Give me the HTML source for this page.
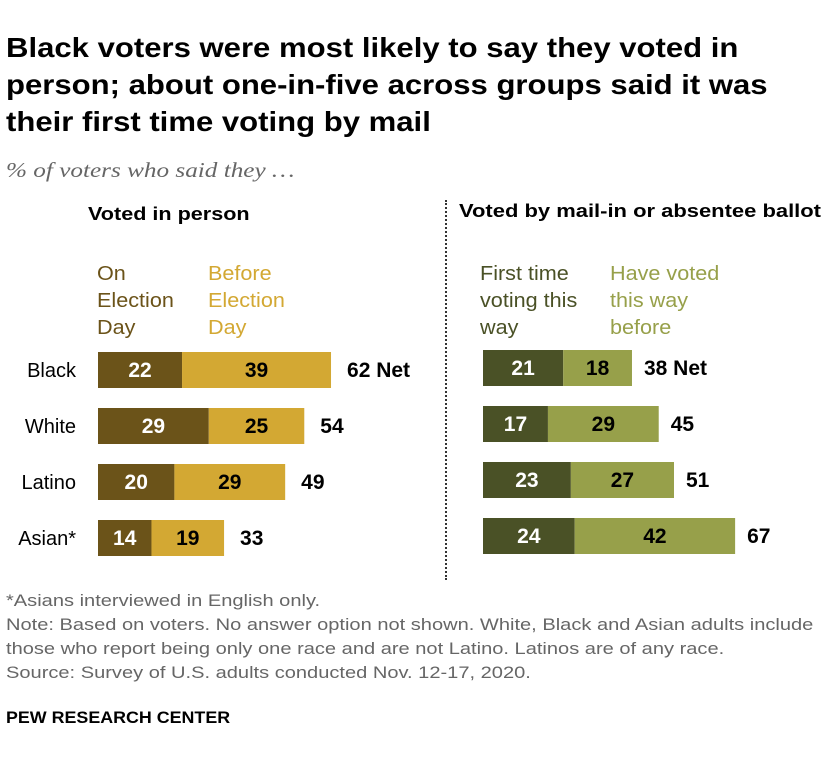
<!DOCTYPE html>
<html><head><meta charset="utf-8"><style>
body{margin:0;background:#fff;font-family:"Liberation Sans",sans-serif;}
#wrap{position:relative;width:840px;height:762px;overflow:hidden;}
.t{position:absolute;white-space:nowrap;transform-origin:0 0;}
</style></head><body>
<div id="wrap">
<div class="t" style="left:6px;top:29px;font-size:28px;font-weight:bold;line-height:37px;color:#000;transform:scaleX(1.11)">Black voters were most likely to say they voted in<br>person; about one-in-five across groups said it was<br>their first time voting by mail</div>
<div class="t" style="left:6px;top:158px;font-size:21px;font-style:italic;color:#666;font-family:'Liberation Serif',serif;transform:scaleX(1.2)">% of voters who said they …</div>
<div class="t" style="left:88px;top:204px;font-size:18px;font-weight:bold;transform:scaleX(1.2)">Voted in person</div>
<div class="t" style="left:459px;top:201px;font-size:18px;font-weight:bold;transform:scaleX(1.22)">Voted by mail-in or absentee ballot</div>
<div class="t" style="left:97px;top:261px;font-size:20px;line-height:27px;color:#6b5319;transform:scaleX(1.08)">On<br>Election<br>Day</div>
<div class="t" style="left:208px;top:261px;font-size:20px;line-height:27px;color:#d3a833;transform:scaleX(1.08)">Before<br>Election<br>Day</div>
<div class="t" style="left:480px;top:261px;font-size:20px;line-height:27px;color:#4a5126;transform:scaleX(1.08)">First time<br>voting this<br>way</div>
<div class="t" style="left:610px;top:261px;font-size:20px;line-height:27px;color:#97a04a;transform:scaleX(1.08)">Have voted<br>this way<br>before</div>
<div style="position:absolute;left:445px;top:200px;height:380px;border-left:2px dotted #333"></div>
<svg id="svg" width="840" height="762" style="position:absolute;left:0;top:0"></svg>
<div class="t" style="left:6px;top:589px;font-size:17px;line-height:24px;color:#666;transform:scaleX(1.18)">*Asians interviewed in English only.<br>Note: Based on voters. No answer option not shown. White, Black and Asian adults include<br>those who report being only one race and are not Latino. Latinos are of any race.<br>Source: Survey of U.S. adults conducted Nov. 12-17, 2020.</div>
<div class="t" style="left:6px;top:708px;font-size:17px;font-weight:bold;transform:scaleX(1.05)">PEW RESEARCH CENTER</div>
</div>
<script>
const groups=["Black","White","Latino","Asian*"];
const onDay=[22,29,20,14];
const beforeDay=[39,25,29,19];
const personNet=[62,54,49,33];
const firstTime=[21,17,23,24];
const votedBefore=[18,29,27,42];
const mailNet=[38,45,51,67];
const ns="http://www.w3.org/2000/svg";
const svg=document.getElementById('svg');
const k=3.82;
function x(v,x0){return x0+v*k;}
function y(i){return 352+i*56;}
const H=36;
function rect(x0,w,yy,fill,name){const r=document.createElementNS(ns,'rect');r.setAttribute('x',x0);r.setAttribute('y',yy);r.setAttribute('width',w);r.setAttribute('height',H);r.setAttribute('fill',fill);


svg.appendChild(r);}
function text(tx,ty,s,fill,anchor,weight,name,size){const t=document.createElementNS(ns,'text');t.setAttribute('x',tx);t.setAttribute('y',ty);t.setAttribute('fill',fill);t.setAttribute('text-anchor',anchor);t.setAttribute('font-size',size||'21');t.setAttribute('font-weight',weight);t.setAttribute('font-family','Liberation Sans, sans-serif');t.textContent=s;


svg.appendChild(t);}
groups.forEach((g,i)=>{
 const yy=y(i),cy=yy+H/2+7;
 text(76,cy,g,'#000','end','normal','group-label','20');
 const L=98;
 rect(L,x(onDay[i],0),yy,'#6b5319','bar-on-election-day');
 rect(x(onDay[i],L),x(beforeDay[i],0),yy,'#d3a833','bar-before-election-day');
 text(x(onDay[i]/2,L),cy,onDay[i],'#fff','middle','bold','value-on-election-day');
 text(x(onDay[i]+beforeDay[i]/2,L),cy,beforeDay[i],'#000','middle','bold','value-before-election-day');
 text(x(onDay[i]+beforeDay[i],L)+16,cy,personNet[i]+(i==0?'  Net':''),'#000','start','bold','net-in-person');
 const R=483,ry=yy-2,rcy=ry+H/2+7;
 rect(R,x(firstTime[i],0),ry,'#4a5126','bar-first-time-mail');
 rect(x(firstTime[i],R),x(votedBefore[i],0),ry,'#97a04a','bar-voted-mail-before');
 text(x(firstTime[i]/2,R),rcy,firstTime[i],'#fff','middle','bold','value-first-time-mail');
 text(x(firstTime[i]+votedBefore[i]/2,R),rcy,votedBefore[i],'#000','middle','bold','value-voted-mail-before');
 text(x(firstTime[i]+votedBefore[i],R)+12,rcy,mailNet[i]+(i==0?'  Net':''),'#000','start','bold','net-mail');
});
</script>
</body></html>
